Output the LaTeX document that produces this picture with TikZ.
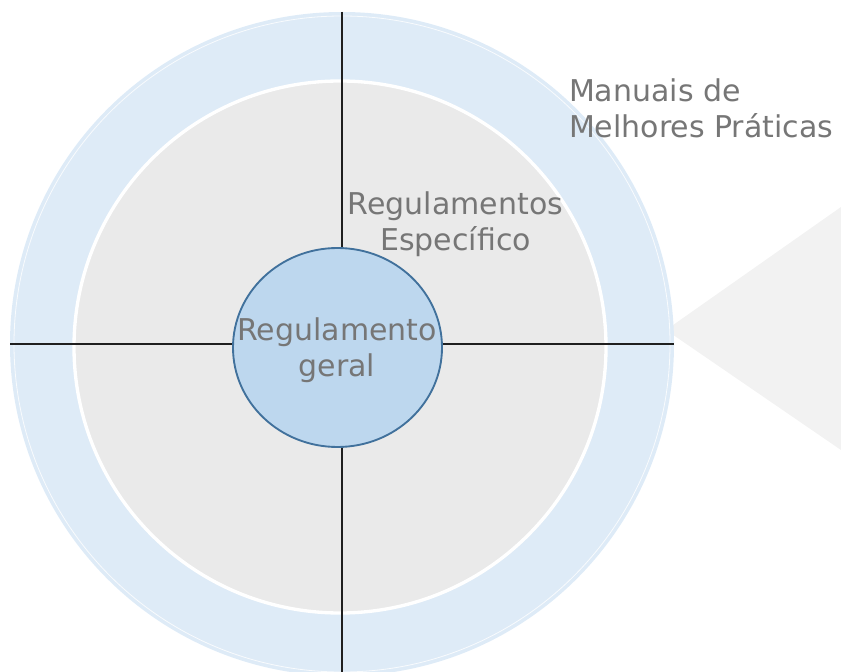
\documentclass[tikz,border=0pt]{standalone}
\usepackage{fontspec}
\setmainfont{DejaVu Sans}
\usetikzlibrary{shapes.geometric}
\definecolor{ringblue}{HTML}{DEEBF7}
\definecolor{innergray}{HTML}{EAEAEA}
\definecolor{coreblue}{HTML}{BDD7EE}
\definecolor{coreline}{HTML}{41719C}
\definecolor{labelgray}{HTML}{767676}
\definecolor{wedgegray}{HTML}{F2F2F2}
\begin{document}
\begin{tikzpicture}
[x=0.75pt,y=0.75pt,
ring/.style={circle,inner sep=0,outer sep=0,fill=ringblue,minimum size=498pt},
inner/.style={circle,inner sep=0,outer sep=0,fill=innergray,draw=white,line width=2.5pt,minimum size=399pt},
core/.style={ellipse,inner sep=0,outer sep=0,fill=coreblue,draw=coreline,line width=1.4pt,minimum width=156.75pt,minimum height=149.25pt},
axis/.style={-,color=black!88},
txt/.style={inner sep=0,outer sep=0,color=labelgray,font=\fontsize{22.5pt}{27pt}\selectfont}]

\useasboundingbox (0,0) rectangle (841,671);

%draw the wedge on the right
\fill[wedgegray] (666,341) -- (841,464) -- (841,221) -- cycle;

%draw the rings
\node[ring] (outer) at (342,327) {};
\draw[white,line width=0.6pt,opacity=0.8] (outer.center) circle (328);
\node[inner] (middle) at (340,324) {};

%draw the axes
\draw[axis,line width=0.8pt] (outer.north) -- (outer.south);
\draw[axis,line width=1.3pt] (outer.west) -- (outer.east);

%draw the core
\node[core] (geral) at (337.5,323.5) {};
\node[txt,align=center] (geraltxt) at (337,320.5) {Regulamento\\geral};

%draw the labels
\node[txt,align=center] (especifico) at (455.5,446.4) {Regulamentos\\Específico};
\node[txt,align=left,anchor=north west] (manuais) at (569,592) {Manuais de\\Melhores Práticas};

\end{tikzpicture}
\end{document}
